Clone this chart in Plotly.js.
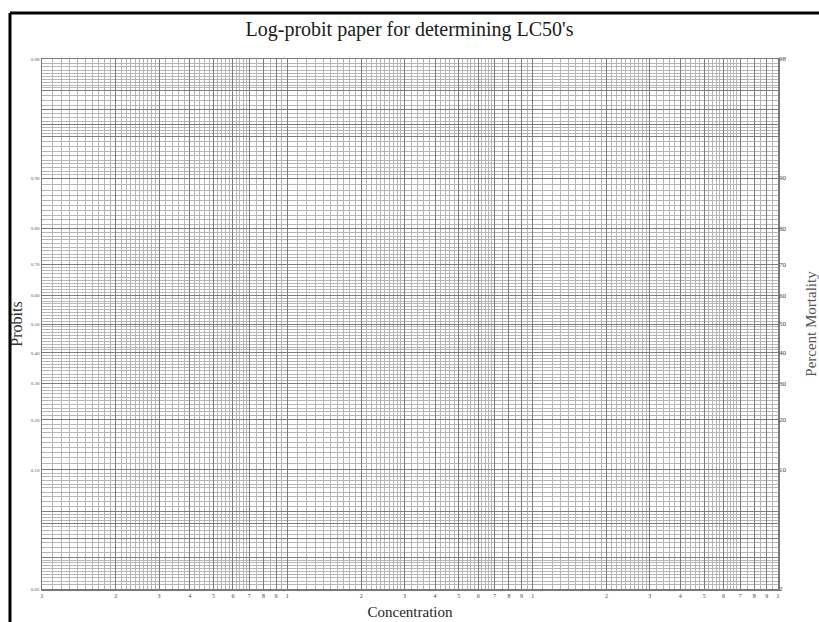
<!DOCTYPE html>
<html>
<head>
<meta charset="utf-8">
<script src="https://cdn.plot.ly/plotly-3.0.1.min.js"></script>
<style>html,body{margin:0;padding:0;background:#fff;}#chart{width:819px;height:622px;}</style>
</head>
<body>
<div id="chart"></div>
<script>
// ---- data: axis ticks and labels ----
const xMajorVals = [1,2,3,4,5,6,7,8,9,10,20,30,40,50,60,70,80,90,100,200,300,400,500,600,700,800,900,1000];
const xMajorText = ['1','2','3','4','5','6','7','8','9','1','2','3','4','5','6','7','8','9','1','2','3','4','5','6','7','8','9','1'];
const xMinorMantissa = [1.1,1.2,1.3,1.4,1.5,1.6,1.7,1.8,1.9,2.1,2.2,2.3,2.4,2.5,2.6,2.7,2.8,2.9,3.2,3.4,3.6,3.8,4.2,4.4,4.6,4.8,5.2,5.4,5.6,5.8,6.2,6.4,6.6,6.8,7.5,8.5,9.5];
const xDecades = [1,10,100];
const xRange = [1,1000];

const yLabelProb = [0.01,0.10,0.20,0.30,0.40,0.50,0.60,0.70,0.80,0.90,0.99];
const yLeftText  = ['0.02','0.10','0.20','0.30','0.40','0.50','0.60','0.70','0.80','0.90','0.98'];
const yRightText = ['2','10','20','30','40','50','60','70','80','90','98'];
const yExtraMajorProb = [0.02,0.03,0.04,0.05,0.95,0.96,0.97,0.98];
// minor probability gridline segments: [from, to, step]
const yMinorSegments = [[0.010,0.020,0.001],[0.020,0.050,0.0025],[0.05,0.10,0.005],[0.10,0.90,0.01],[0.90,0.95,0.005],[0.95,0.98,0.0025],[0.98,0.99,0.001]];
const yRangeProb = [0.01,0.99];

// inverse normal CDF (probit), Acklam
function probit(p){
  const a=[-3.969683028665376e+01,2.209460984245205e+02,-2.759285104469687e+02,1.383577518672690e+02,-3.066479806614716e+01,2.506628277459239e+00];
  const b=[-5.447609879822406e+01,1.615858368580409e+02,-1.556989798598866e+02,6.680131188771972e+01,-1.328068155288572e+01];
  const c=[-7.784894002430293e-03,-3.223964580411365e-01,-2.400758277161838e+00,-2.549732539343734e+00,4.374664141464968e+00,2.938163982698783e+00];
  const d=[7.784695709041462e-03,3.224671290700398e-01,2.445134137142996e+00,3.754408661907416e+00];
  const pl=0.02425, ph=1-pl; let q,r;
  if(p<pl){q=Math.sqrt(-2*Math.log(p));return (((((c[0]*q+c[1])*q+c[2])*q+c[3])*q+c[4])*q+c[5])/((((d[0]*q+d[1])*q+d[2])*q+d[3])*q+1);}
  if(p<=ph){q=p-0.5;r=q*q;return (((((a[0]*r+a[1])*r+a[2])*r+a[3])*r+a[4])*r+a[5])*q/(((((b[0]*r+b[1])*r+b[2])*r+b[3])*r+b[4])*r+1);}
  q=Math.sqrt(-2*Math.log(1-p));return -(((((c[0]*q+c[1])*q+c[2])*q+c[3])*q+c[4])*q+c[5])/((((d[0]*q+d[1])*q+d[2])*q+d[3])*q+1);
}

const xMinorVals = [];
xDecades.forEach(dec => xMinorMantissa.forEach(m => xMinorVals.push(+(m*dec).toPrecision(6))));

const yMinorVals = [];
yMinorSegments.forEach(([a,b,s]) => {
  const n = Math.round((b-a)/s);
  for(let i=1;i<n;i++) yMinorVals.push(probit(a+i*s));
});

const yMajorVals = yLabelProb.map(probit).concat(yExtraMajorProb.map(probit));
const yMajorLeftText = yLeftText.concat(yExtraMajorProb.map(()=>''));
const yR = yRangeProb.map(probit);

const serif = 'Liberation Serif, Times New Roman, serif';

const traces = [
  {x: xRange, y: yR, type:'scatter', mode:'markers', marker:{opacity:0}, hoverinfo:'skip', showlegend:false},
  {x: xRange, y: yR, type:'scatter', mode:'markers', marker:{opacity:0}, hoverinfo:'skip', showlegend:false, yaxis:'y2'}
];

const layout = {
  width: 819, height: 622,
  margin: {l:42, r:41, t:59, b:33},
  paper_bgcolor:'#ffffff', plot_bgcolor:'#ffffff',
  showlegend:false,
  title: {text:"Log-probit paper for determining LC50's", font:{family:serif, size:20, color:'#1a1a1a'}, x:0.5, xanchor:'center', y:0.953, yanchor:'middle'},
  xaxis: {
    type:'log', range:[Math.log10(xRange[0]), Math.log10(xRange[1])],
    tickmode:'array', tickvals:xMajorVals, ticktext:xMajorText,
    tickfont:{family:serif, size:6, color:'#444'}, ticks:'', ticklabelstandoff:0,
    showgrid:true, gridcolor:'#7c7c7c', gridwidth:1,
    minor:{tickmode:'array', tickvals:xMinorVals, showgrid:true, gridcolor:'#b6b6b6', gridwidth:1, ticks:''},
    showline:true, linecolor:'#7a7a7a', linewidth:1.5, mirror:true, zeroline:false,
    title:{text:'Concentration', font:{family:serif, size:15, color:'#222'}, standoff:9}
  },
  yaxis: {
    range:yR, tickmode:'array', tickvals:yMajorVals, ticktext:yMajorLeftText,
    tickfont:{family:serif, size:5, color:'#555'}, ticks:'',
    showgrid:true, gridcolor:'#7c7c7c', gridwidth:1,
    minor:{tickmode:'array', tickvals:yMinorVals, showgrid:true, gridcolor:'#b6b6b6', gridwidth:1, ticks:''},
    showline:true, linecolor:'#7a7a7a', linewidth:1.5, mirror:true, zeroline:false,
    title:{text:'Probits', font:{family:serif, size:16, color:'#333'}, standoff:4}
  },
  yaxis2: {
    overlaying:'y', side:'right', range:yR,
    tickmode:'array', tickvals:yLabelProb.map(probit), ticktext:yRightText,
    tickfont:{family:serif, size:7, color:'#444'}, ticks:'',
    showgrid:false, zeroline:false, showline:false,
    title:{text:'Percent Mortality', font:{family:serif, size:15, color:'#555'}, standoff:19}
  },
  shapes: [
    {type:'line', xref:'paper', yref:'paper', x0:-0.0435, x1:1.06, y0:1.0868, y1:1.0868, line:{color:'#000', width:3}},
    {type:'line', xref:'paper', yref:'paper', x0:-0.0435, x1:-0.0435, y0:1.0868, y1:-0.07, line:{color:'#000', width:3}}
  ]
};

Plotly.newPlot('chart', traces, layout, {displayModeBar:false, staticPlot:true});
</script>
</body>
</html>
